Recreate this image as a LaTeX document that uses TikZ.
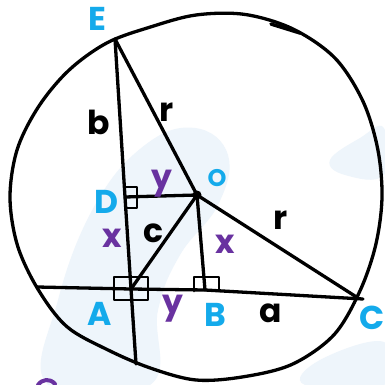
\documentclass[tikz,border=0pt]{standalone}
\usepackage{fontspec}
\setmainfont{Poppins}
\definecolor{ptblue}{RGB}{20,170,235}
\definecolor{ptpurple}{RGB}{105,50,160}
\definecolor{blob}{RGB}{238,245,251}
\begin{document}
\begin{tikzpicture}[x=1pt,y=-1pt, line join=round, line cap=round,
  ink/.style={line width=3.3pt, draw=black},
  box/.style={line width=2.8pt, draw=black},
  lbl/.style={font=\fontsize{33}{33}\selectfont\bfseries, inner sep=0pt},
  pt/.style={lbl, text=ptblue},
  var/.style={lbl, text=ptpurple},
  len/.style={lbl, text=black}]
\useasboundingbox (0,0) rectangle (384,385);
\fill[white] (0,0) rectangle (384,385);
% faint background strokes
\fill[blob] plot[smooth cycle, tension=0.7] coordinates {(48,385) (58,300) (95,205) (145,145) (195,128) (228,155) (218,205) (180,255) (158,310) (150,385)};
\fill[blob] plot[smooth cycle, tension=0.7] coordinates {(330,160) (360,138) (384,128) (384,175) (345,175)};
\fill[blob] plot[smooth cycle, tension=0.7] coordinates {(305,385) (320,360) (384,342) (384,385)};
% points
\coordinate (E) at (115,39);
\coordinate (O) at (197,195);
\coordinate (D) at (125,197);
\coordinate (A) at (131,289);
\coordinate (B) at (205,290);
\coordinate (C) at (358,298);
\coordinate (Cx) at (363,299);
\coordinate (L) at (37,287);
\coordinate (F) at (136,364);
% hand-drawn circle
\begin{scope}[shift={(196,197)}]
\draw[ink] plot[smooth cycle, tension=0.55] coordinates {
(0:186) (15:186) (30:189) (45:195) (60:193) (75:186) (90:183) (105:177)
(120:176.5) (135:183) (150:183) (165:185) (180:186) (195:185) (210:181.5)
(225:179.5) (240:178) (255:176) (270:182) (285:189) (300:194) (315:196.5)
(330:192.5) (345:188)};
\end{scope}
% small stray stroke near the top
\draw[line width=3.5pt] (271,24) -- (300,33);
% lines
\draw[ink] (E) -- (D) -- (A) -- (F);
\draw[ink] (L) -- (A) -- (B) -- (Cx);
\draw[ink] (E) -- (O) -- (C);
\draw[ink] (D) -- (O);
\draw[ink] (O) -- (A);
\draw[ink] (O) -- (B);
\fill (O) circle (4.5);
% right-angle marks
\draw[box] (125,187) rectangle (137,208);
\draw[box] (114,277) rectangle (148,300);
\draw[box] (194,291) -- (194,277) -- (219,277) -- (219,291);
% labels
\node[pt] (lE) at (97,19) {E};
\node[pt] (lO) at (217,178) {\fontsize{24}{24}\selectfont O};
\node[pt] (lD) at (106,202) {D};
\node[pt] (lA) at (100,314) {A};
\node[pt] (lB) at (215,315) {B};
\node[pt] (lC) at (372,318) {C};
\node[len] (lb) at (99,122) {b};
\node[len] (lr1) at (167,112) {r};
\node[len] (lc) at (153,233) {c};
\node[len] (lr2) at (281,220) {r};
\node[len] (la) at (271,313) {a};
\node[var] (ly1) at (162,184) {y};
\node[var] (lx1) at (112,238) {x};
\node[var] (lx2) at (225,244) {x};
\node[var] (ly2) at (173,309) {y};
% cut-off purple mark at the bottom edge
\draw[ptpurple, line width=4pt] (38,385) .. controls (42,379) and (50,378) .. (55,384);
\end{tikzpicture}
\end{document}
